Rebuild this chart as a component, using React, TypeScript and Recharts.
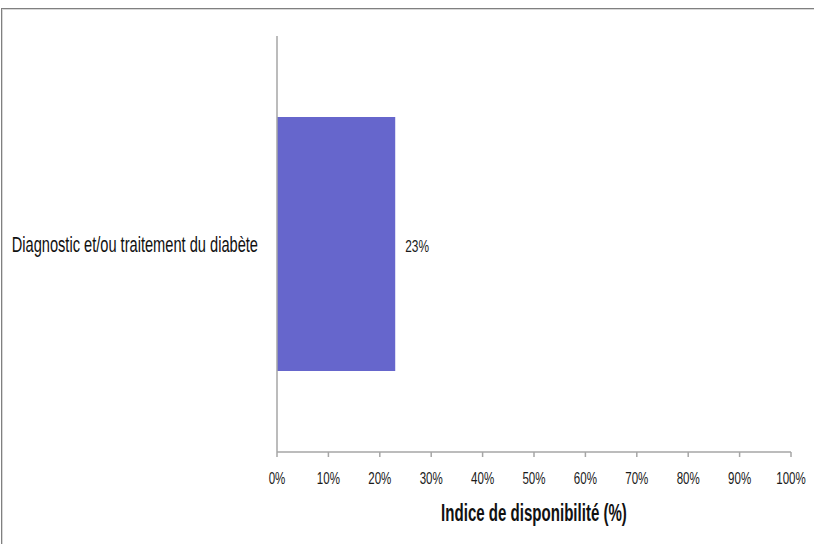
import React from "react";
import { BarChart, Bar, XAxis, YAxis, LabelList, Label } from "recharts";

const categories = ["Diagnostic et/ou traitement du diabète"];
const values = [23];
const xTicks = [0, 10, 20, 30, 40, 50, 60, 70, 80, 90, 100];
const axisTitle = "Indice de disponibilité (%)";

const data = categories.map((c, i) => ({ name: c, value: values[i] }));

const FONT = "'Liberation Sans', Arial, sans-serif";

const XTick = (props: any) => {
  const { x, y, payload } = props;
  return (
    <text
      transform={`translate(${x},${y + 27}) scale(0.68,1)`}
      textAnchor="middle"
      fill="#1a1a1a"
      fontSize={17}
      fontFamily={FONT}
    >
      {`${payload.value}%`}
    </text>
  );
};

const YTick = (props: any) => {
  const { x, y, payload } = props;
  return (
    <text
      transform={`translate(${x},${y + 8}) scale(0.665,1)`}
      textAnchor="end"
      fill="#111"
      fontSize={22}
      fontFamily={FONT}
    >
      {payload.value}
    </text>
  );
};

const TitleLabel = (props: any) => {
  const vb = props.viewBox || {};
  const cx = vb.x + vb.width / 2;
  const by = vb.y + 69;
  return (
    <text
      transform={`translate(${cx},${by}) scale(0.655,1)`}
      textAnchor="middle"
      fill="#111"
      fontSize={23}
      fontWeight="bold"
      fontFamily={FONT}
    >
      {axisTitle}
    </text>
  );
};

const BarValueLabel = (props: any) => {
  const { x, y, width, height, value } = props;
  return (
    <text
      transform={`translate(${x + width + 10},${y + height / 2 + 8}) scale(0.7,1)`}
      textAnchor="start"
      fill="#1a1a1a"
      fontSize={17}
      fontFamily={FONT}
    >
      {`${value}%`}
    </text>
  );
};

export default function App() {
  return (
    <div style={{ position: "absolute", left: 0, top: 0, width: 814, height: 544, background: "#fff", overflow: "hidden" }}>
      <div
        style={{
          position: "absolute",
          left: 1,
          top: 8,
          width: 830,
          height: 560,
          borderTop: "1px solid #808080",
          borderLeft: "1px solid #808080",
          boxShadow: "inset 1px 1px 0 #d8d8d8",
        }}
      />
      <div style={{ position: "absolute", left: 0, top: 0 }}>
        <BarChart
          width={814}
          height={544}
          data={data}
          layout="vertical"
          margin={{ top: 36, right: 23, bottom: 12, left: 0 }}
          barCategoryGap="19.5%"
        >
          <XAxis
            type="number"
            domain={[0, 100]}
            ticks={xTicks}
            axisLine={{ stroke: "#a6a6a6", strokeWidth: 1.5 }}
            tickLine={{ stroke: "#a6a6a6", strokeWidth: 1.5 }}
            tickSize={5}
            tickMargin={0}
            height={80}
            interval={0}
            tick={<XTick />}
          >
            <Label content={<TitleLabel />} />
          </XAxis>
          <YAxis
            type="category"
            dataKey="name"
            width={277}
            axisLine={{ stroke: "#a6a6a6", strokeWidth: 1.5 }}
            tickLine={false}
            tickSize={0}
            tickMargin={19}
            tick={<YTick />}
          />
          <Bar dataKey="value" fill="#6666CC" isAnimationActive={false}>
            <LabelList dataKey="value" content={<BarValueLabel />} />
          </Bar>
        </BarChart>
      </div>
    </div>
  );
}
